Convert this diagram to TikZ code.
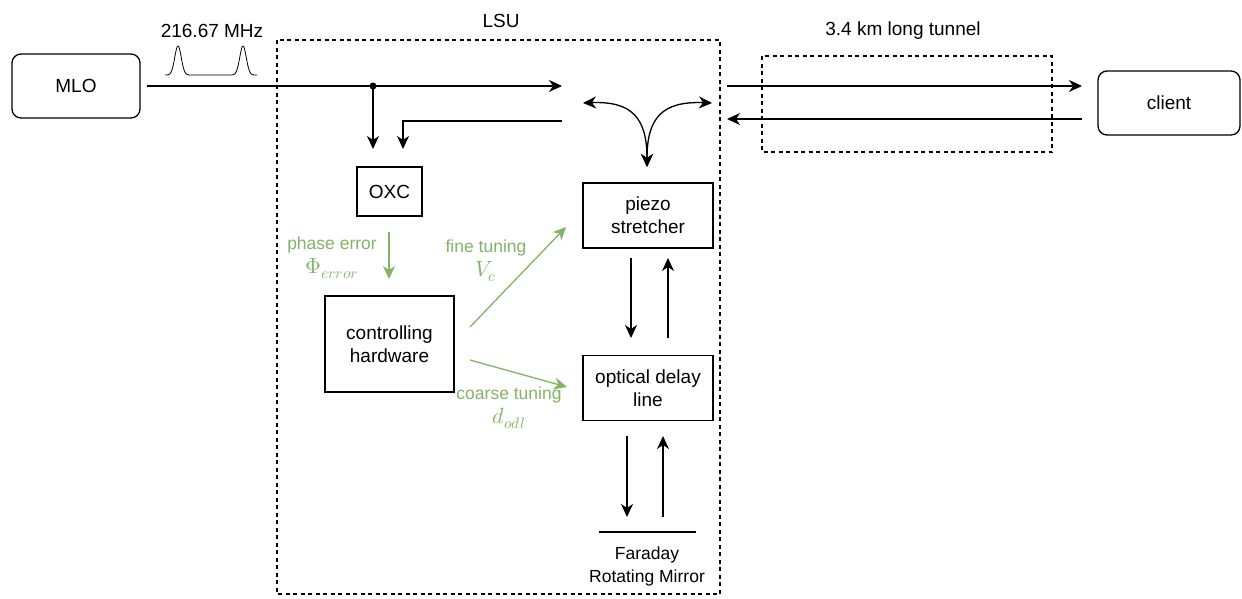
\documentclass[tikz,border=0pt]{standalone}
\usepackage{fontspec}
\usepackage{unicode-math}
\setmainfont{Liberation Sans}
\setmathfont{Latin Modern Math}
\usetikzlibrary{arrows.meta}
\definecolor{dgreen}{HTML}{82B366}
\newcommand{\mth}[1]{{\fontsize{22}{25}\selectfont$#1$}}
\begin{document}
\begin{tikzpicture}[x=1pt,y=-1pt,
  every node/.style={inner sep=0pt,outer sep=0pt},
  txt/.style={font=\fontsize{19}{23}\selectfont,align=center},
  gtxt/.style={font=\fontsize{17.5}{24}\selectfont,align=center,text=dgreen},
  blk/.style={draw,line width=1.3pt,rectangle,txt},
  rblk/.style={blk,rounded corners=9pt},
  dbox/.style={draw,line width=1.2pt,dash pattern=on 4pt off 3.5pt},
  ln/.style={line width=1.3pt},
  arr/.style={line width=1.3pt,-{Stealth[length=13pt,width=12pt,inset=4pt]}},
  barr/.style={line width=1.3pt,{Stealth[length=13pt,width=12pt,inset=4pt]}-{Stealth[length=13pt,width=12pt,inset=4pt]}},
  garr/.style={arr,draw=dgreen,color=dgreen}]
\useasboundingbox (0,0) rectangle (1242,598);

% boxes
\node[rblk,minimum width=128pt,minimum height=64pt] (mlo) at (76,86) {MLO};
\node[rblk,minimum width=142pt,minimum height=64pt] (client) at (1169,103) {client};
\node[blk,minimum width=65pt,minimum height=49pt] (oxc) at (389.5,191.5) {OXC};
\node[blk,minimum width=129pt,minimum height=96pt] (ctrl) at (389.5,344) {controlling\\hardware};
\node[blk,minimum width=130pt,minimum height=65pt] (piezo) at (648,215.5) {piezo\\stretcher};
\node[blk,minimum width=130pt,minimum height=65pt] (odl) at (648,388) {optical delay\\line};

% dashed regions
\draw[dbox] (277,40) rectangle (720,594);
\draw[dbox] (762,56) rectangle (1052,152);

% labels
\node[txt,anchor=base] (freq) at (212,37) {216.67 MHz};
\node[txt,anchor=base] (lsu) at (501,27) {LSU};
\node[txt,anchor=base] (tunnel) at (903,35) {3.4 km long tunnel};
\node[gtxt,anchor=base] (phase) at (332,273) {phase error\\\mth{\Phi_{error}}};
\node[gtxt,anchor=base] (fine) at (486,276) {fine tuning\\\mth{V_c}};
\node[gtxt,anchor=base] (coarse) at (509,423) {coarse tuning\\\mth{d_{odl}}};
\node[font=\fontsize{17.5}{23}\selectfont,align=center,anchor=base] (frm) at (647,582) {Faraday\\Rotating Mirror};

% pulses
\draw[line width=0.8pt] plot[domain=165:257,samples=240] (\x,{75-29*exp(-((\x-178)/4.6)^2)-29*exp(-((\x-243)/4.6)^2)});

% coordinates
\coordinate (mloout) at (147,86);
\coordinate (split) at (373,86);
\coordinate (toCirc) at (562,86);
\coordinate (oxcA) at (373,149);
\coordinate (fromCirc) at (562,121);
\coordinate (bend) at (403,121);
\coordinate (oxcB) at (403,149);
\coordinate (cL) at (583,103);
\coordinate (cR) at (712,103);
\coordinate (cB) at (647,167);
\coordinate (tOut1) at (727,86);
\coordinate (tIn1) at (1082,86);
\coordinate (tOut2) at (1082,119);
\coordinate (tIn2) at (727,119);
\coordinate (pe1) at (389,232);
\coordinate (pe2) at (389,279);
\coordinate (ft1) at (470,327);
\coordinate (ft2) at (566,227);
\coordinate (ct1) at (470,360);
\coordinate (ct2) at (567,387);
\coordinate (pd1) at (631,258);
\coordinate (pd2) at (631,338);
\coordinate (pu1) at (668,338);
\coordinate (pu2) at (668,258);
\coordinate (md1) at (627,436);
\coordinate (md2) at (627,517);
\coordinate (mu1) at (663,517);
\coordinate (mu2) at (663,436);
\coordinate (mirL) at (599,532);
\coordinate (mirR) at (696,532);

% connectors
\draw[arr] (mloout) -- (toCirc);
\fill (split) circle (3.5pt);
\draw[arr] (split) -- (oxcA);
\draw[arr] (fromCirc) -- (bend) -- (oxcB);
\draw[barr] (cL) .. controls (632,101) and (647,118) .. (cB);
\draw[barr] (cR) .. controls (662,101) and (647,118) .. (cB);
\draw[arr] (tOut1) -- (tIn1);
\draw[arr] (tOut2) -- (tIn2);
\draw[garr] (pe1) -- (pe2);
\draw[garr] (ft1) -- (ft2);
\draw[garr] (ct1) -- (ct2);
\draw[arr] (pd1) -- (pd2);
\draw[arr] (pu1) -- (pu2);
\draw[arr] (md1) -- (md2);
\draw[arr] (mu1) -- (mu2);
\draw[ln] (mirL) -- (mirR);
\end{tikzpicture}
\end{document}
